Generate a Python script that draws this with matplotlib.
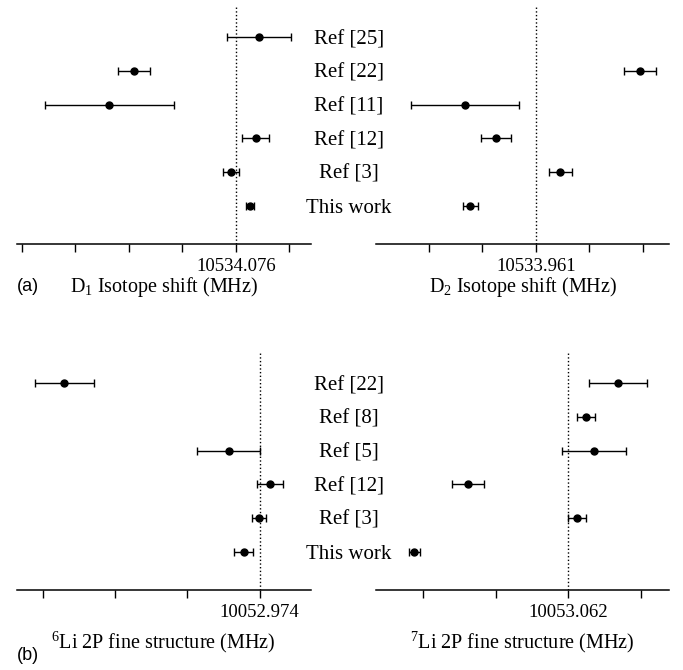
import numpy as np
import matplotlib
matplotlib.use("Agg")
import matplotlib.pyplot as plt
from matplotlib.transforms import blended_transform_factory

plt.rcParams['font.family'] = ['Liberation Serif', 'DejaVu Serif']
plt.rcParams['mathtext.fontset'] = 'custom'
plt.rcParams['mathtext.rm'] = 'Liberation Serif'
plt.rcParams['mathtext.it'] = 'Liberation Serif:italic'

# rows, bottom to top
labels_a = ["This work", "Ref [3]", "Ref [12]", "Ref [11]", "Ref [22]", "Ref [25]"]
labels_b = ["This work", "Ref [3]", "Ref [12]", "Ref [5]", "Ref [8]", "Ref [22]"]

# D1 isotope shift (MHz)
d1_center = 10534.076
d1_val = [10534.103, 10534.068, 10534.113, 10533.840, 10533.886, 10534.120]
d1_err = [0.007, 0.015, 0.026, 0.121, 0.030, 0.060]

# D2 isotope shift (MHz), no value from Ref [25]
d2_center = 10533.961
d2_val = [10533.839, 10534.007, 10533.886, 10533.829, 10534.155, np.nan]
d2_err = [0.014, 0.021, 0.028, 0.100, 0.030, np.nan]

# 6Li 2P fine structure (MHz), no value from Ref [8]
li6_center = 10052.974
li6_val = [10052.952, 10052.973, 10052.989, 10052.931, np.nan, 10052.703]
li6_err = [0.013, 0.010, 0.018, 0.044, np.nan, 0.041]

# 7Li 2P fine structure (MHz)
li7_center = 10053.062
li7_val = [10052.850, 10053.074, 10052.924, 10053.097, 10053.086, 10053.130]
li7_err = [0.008, 0.012, 0.022, 0.044, 0.012, 0.040]

step = 0.1  # tick spacing (MHz)

W, H = 683, 670
fig = plt.figure(figsize=(W / 100, H / 100), dpi=100)


def panel(px0, px1, py_axis, py_top, center, vals, errs, lo, hi, xlabel, lab_drop):
    ax = fig.add_axes([px0 / W, 1 - py_axis / H, (px1 - px0) / W, (py_axis - py_top) / H])
    ax.patch.set_visible(False)
    y = np.arange(len(vals))
    ax.errorbar(vals, y, xerr=errs, fmt='o', color='black', ms=5,
                elinewidth=1, capsize=2.8, capthick=1)
    ax.axvline(center, color='black', ls=':', lw=1)
    ax.set_xlim(center + lo * step, center + hi * step)
    ax.set_ylim(-1.14, 5.93)
    ks = np.arange(np.ceil(lo), np.floor(hi) + 1)
    ax.set_xticks(center + ks * step)
    ax.set_xticklabels([f"{center:.3f}" if k == 0 else "" for k in ks], fontsize=13.5)
    ax.tick_params(axis='x', direction='out', length=6, width=1, pad=4)
    ax.set_yticks([])
    for s in ['top', 'left', 'right']:
        ax.spines[s].set_visible(False)
    ax.spines['bottom'].set_linewidth(1.1)
    ax.set_xlabel(xlabel, fontsize=14.5, va='baseline')
    ax.xaxis.set_label_coords(0.5, -lab_drop / (py_axis - py_top))
    return ax


ax1 = panel(16.7, 310.7, 244, 6, d1_center, d1_val, d1_err, -4.09, 1.40,
            r"D$_1$ Isotope shift (MHz)", 48)
ax2 = panel(376, 669.3, 244, 6, d2_center, d2_val, d2_err, -2.98, 2.49,
            r"D$_2$ Isotope shift (MHz)", 48)
ax3 = panel(16.7, 310.7, 590, 352, li6_center, li6_val, li6_err, -3.37, 0.71,
            r"$^{6}$Li 2P fine structure (MHz)", 58)
ax4 = panel(376, 669.3, 590, 352, li7_center, li7_val, li7_err, -2.65, 1.39,
            r"$^{7}$Li 2P fine structure (MHz)", 58)

for ax, labs in [(ax1, labels_a), (ax3, labels_b)]:
    tr = blended_transform_factory(fig.transFigure, ax.transData)
    for i, lab in enumerate(labs):
        ax.text(349 / W, i, lab, transform=tr, ha='center', va='center_baseline',
                fontsize=15, clip_on=False)

fig.text(17 / W, 1 - 286 / H, "(a)", family='Liberation Sans', fontsize=13,
         ha='left', va='center')
fig.text(17 / W, 1 - 655 / H, "(b)", family='Liberation Sans', fontsize=13,
         ha='left', va='center')

fig.savefig("out.png", dpi=100)
